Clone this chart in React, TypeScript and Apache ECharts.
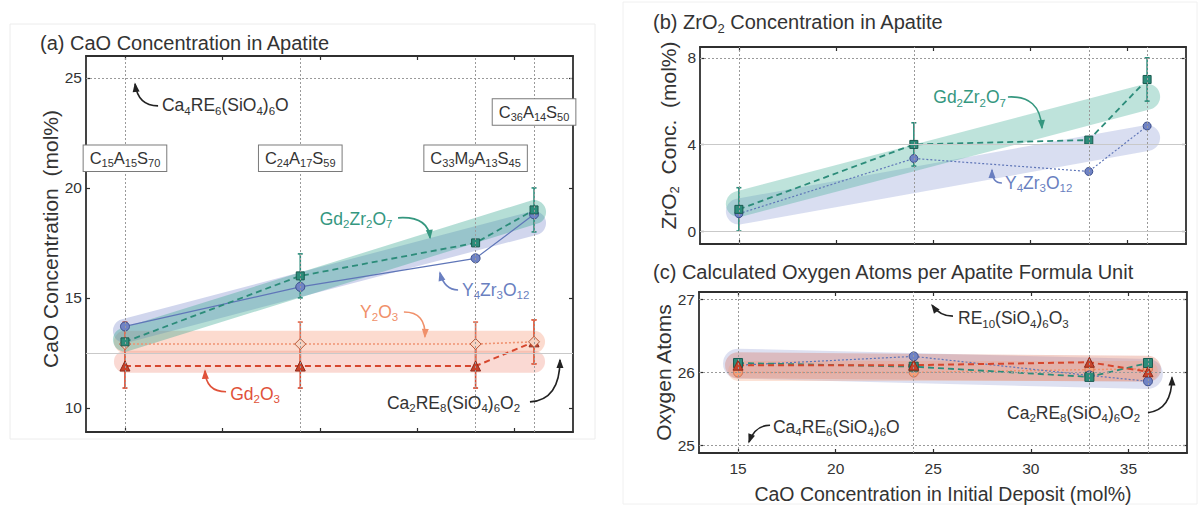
import React, { useEffect, useRef } from 'react';
import * as echarts from 'echarts';

const FONT = '"Liberation Sans", Arial, Helvetica, sans-serif';
const TEXT = '#333333';

// shared x data: CaO concentration in initial deposit (mol%)
const CAO_DEPOSIT = [15, 24, 33, 36];
const X_TICKS = [15, 20, 25, 30, 35];
const X_RANGE = [13, 38];
const FIT_X = [15, 36];

// (a) CaO concentration in apatite (mol%)
const A_Y_RANGE = [8.9, 26];
const A_Y_TICKS = [10, 15, 20, 25];
const A_GD2ZR2O7 = [13.0, 16.0, 17.5, 19.0];
const A_Y4ZR3O12 = [13.7, 15.5, 16.8, 18.8];
const A_Y2O3 = [12.9, 12.9, 12.9, 13.0];
const A_GD2O3 = [11.9, 11.9, 11.9, 13.0];
const A_GD2ZR2O7_ERR = [0, 1.0, 0, 1.0];
const A_Y2O3_ERR = [1.0, 1.0, 1.0, 1.0];
const A_GD2O3_ERR = [1.0, 1.0, 1.0, 1.0];
const A_FIT_GD2ZR2O7 = [13.1, 18.9];
const A_FIT_Y4ZR3O12 = [13.5, 18.4];
const A_FIT_Y2O3 = [13.0, 13.0];
const A_FIT_GD2O3 = [12.1, 12.1];
const A_REF_CA4 = 25; // Ca4RE6(SiO4)6O
const A_REF_CA2 = 12.5; // Ca2RE8(SiO4)6O2
const COMPOSITIONS = ['C_15A_15S_70', 'C_24A_17S_59', 'C_33M_9A_13S_45', 'C_36A_14S_50'];
const COMPOSITION_Y = [21.35, 21.35, 21.35, 23.45];

// (b) ZrO2 concentration in apatite (mol%)
const B_Y_RANGE = [-0.6, 8.5];
const B_Y_TICKS = [0, 4, 8];
const B_GD2ZR2O7 = [1.0, 4.0, 4.2, 7.0];
const B_Y4ZR3O12 = [0.8, 3.35, 2.75, 4.85];
const B_GD2ZR2O7_ERR = [1.0, 1.0, 0, 1.0];
const B_FIT_GD2ZR2O7 = [1.25, 6.2];
const B_FIT_Y4ZR3O12 = [0.9, 4.3];

// (c) oxygen atoms per apatite formula unit
const C_Y_RANGE = [24.9, 27.1];
const C_Y_TICKS = [25, 26, 27];
const C_GD2ZR2O7 = [26.13, 26.08, 25.94, 26.13];
const C_Y4ZR3O12 = [26.1, 26.22, 25.96, 25.88];
const C_Y2O3 = [26.0, 26.0, 26.04, 26.05];
const C_GD2O3 = [26.1, 26.1, 26.14, 26.01];
const C_FIT_Y4ZR3O12 = [26.12, 25.98];
const C_FIT_GD2O3 = [26.1, 26.05];
const C_FIT_Y2O3 = [26.02, 26.02];
const C_REF_LINES = [27, 26, 25];

const TEAL = '#2c8c7a';
const TEAL_DARK = '#1b5a50';
const BLUE = '#5f76b8';
const BLUE_DARK = '#3b4e8c';
const ORANGE = '#ef9270';
const RED = '#d6472e';
const RED_DARK = '#8e2a1a';

const GRIDS = [
  { left: 86, top: 56, width: 487, height: 376 },
  { left: 700, top: 47, width: 486, height: 197 },
  { left: 699, top: 292, width: 488, height: 161 },
];

function toRich(s: string) {
  let out = '';
  const re = /_(\d+)|([^_]+)/g;
  let m: RegExpExecArray | null;
  while ((m = re.exec(s))) {
    out += m[1] ? `{s|${m[1]}}` : `{n|${m[2]}}`;
  }
  return out;
}

function richStyles(size: number, sub: number, color?: string) {
  const c = color ? { color } : {};
  return {
    n: { fontSize: size, fontFamily: FONT, lineHeight: size + 1, ...c },
    s: { fontSize: sub, fontFamily: FONT, lineHeight: sub, padding: [Math.round(size * 0.6), 0, 0, 0], ...c },
  };
}

function pts(ys: number[]) {
  return CAO_DEPOSIT.map((x, i) => [x, ys[i]]);
}

function band(g: number, ys: number[], color: string, width: number) {
  return {
    type: 'line', xAxisIndex: 2 * g, yAxisIndex: 2 * g, silent: true, z: 1,
    data: FIT_X.map((x, i) => [x, ys[i]]), symbol: 'none',
    lineStyle: { color, width, cap: 'round' },
  };
}

function dataLine(g: number, ys: number[], o: any) {
  return {
    type: 'line', xAxisIndex: 2 * g, yAxisIndex: 2 * g, z: 4,
    data: pts(ys), symbol: o.symbol, symbolSize: o.size, showSymbol: true,
    itemStyle: { color: o.fill, borderColor: o.border, borderWidth: 1 },
    lineStyle: { color: o.color, width: o.width, type: o.type },
  };
}

function errBars(g: number, ys: number[], errs: number[], color: string) {
  return {
    type: 'custom', xAxisIndex: 2 * g, yAxisIndex: 2 * g, z: 3, silent: true,
    data: CAO_DEPOSIT.map((x, i) => [x, ys[i], errs[i]]),
    renderItem: (_p: any, api: any) => {
      const e = api.value(2);
      if (!e) return null;
      const x = api.value(0), y = api.value(1);
      const a = api.coord([x, y - e]);
      const b = api.coord([x, y + e]);
      const st = { stroke: color, lineWidth: 1.6 };
      return {
        type: 'group',
        children: [
          { type: 'line', shape: { x1: a[0], y1: a[1], x2: b[0], y2: b[1] }, style: st },
          { type: 'line', shape: { x1: a[0] - 2.5, y1: a[1], x2: a[0] + 2.5, y2: a[1] }, style: st },
          { type: 'line', shape: { x1: b[0] - 2.5, y1: b[1], x2: b[0] + 2.5, y2: b[1] }, style: st },
        ],
      };
    },
  };
}

const DOTTED = { color: '#9a9a9a', type: [2, 2], width: 1 };
const LIGHT = { color: '#c9c9c9', type: 'solid', width: 1 };

function gridLines(g: number, hLines: { v: number; style: any }[]) {
  return {
    type: 'line', xAxisIndex: 2 * g, yAxisIndex: 2 * g, data: [], silent: true, z: 0,
    markLine: {
      silent: true, symbol: ['none', 'none'], label: { show: false }, animation: false,
      data: [
        ...CAO_DEPOSIT.map((x) => ({ xAxis: x, lineStyle: DOTTED })),
        ...hLines.map((h) => ({ yAxis: h.v, lineStyle: h.style })),
      ],
    },
  };
}

function axes(g: number, yr: number[], yt: number[], showX: boolean, yName: string, yGap: number, yShift: number, xName?: string) {
  const line = { show: true, onZero: false, lineStyle: { color: '#2f2f2f', width: 1.8 } };
  const tick = (vals: number[]) => ({ show: true, inside: true, length: 4, customValues: vals, lineStyle: { color: '#2f2f2f', width: 1.2 } });
  const lbl = { color: TEXT, fontSize: 15.5, fontFamily: FONT };
  const xs = [
    {
      type: 'value', gridIndex: g, position: 'bottom', min: X_RANGE[0], max: X_RANGE[1],
      axisLine: line, axisTick: tick(X_TICKS), splitLine: { show: false },
      axisLabel: { show: showX, customValues: X_TICKS, margin: 7, ...lbl },
      name: xName || '', nameLocation: 'middle', nameGap: 31,
      nameTextStyle: { color: TEXT, fontSize: 19.5, fontFamily: FONT },
    },
    {
      type: 'value', gridIndex: g, position: 'top', min: X_RANGE[0], max: X_RANGE[1],
      axisLine: line, axisTick: tick(X_TICKS), splitLine: { show: false }, axisLabel: { show: false },
    },
  ];
  const ys = [
    {
      type: 'value', gridIndex: g, position: 'left', min: yr[0], max: yr[1],
      axisLine: line, axisTick: tick(yt), splitLine: { show: false },
      axisLabel: { show: true, customValues: yt, margin: 4, ...lbl },
      name: toRich(yName), nameLocation: 'middle', nameGap: yGap,
      nameTextStyle: { color: TEXT, rich: richStyles(21, 13, TEXT), padding: [0, 0, 0, yShift] },
    },
    {
      type: 'value', gridIndex: g, position: 'right', min: yr[0], max: yr[1],
      axisLine: line, axisTick: tick(yt), splitLine: { show: false }, axisLabel: { show: false },
    },
  ];
  return { xs, ys };
}

function buildOption() {
  const a = axes(0, A_Y_RANGE, A_Y_TICKS, false, 'CaO Concentration  (mol%)', 25, 10);
  const b = axes(1, B_Y_RANGE, B_Y_TICKS, false, 'ZrO_2  Conc.  (mol%)', 21, 20);
  const c = axes(2, C_Y_RANGE, C_Y_TICKS, true, 'Oxygen Atoms', 25, 0, 'CaO Concentration in Initial Deposit (mol%)');

  const teal = (size: number) => ({ symbol: 'rect', size, fill: TEAL, border: TEAL_DARK, color: TEAL, width: 1.8, type: [6, 4] });
  const blue = (type: any, size: number) => ({ symbol: 'circle', size, fill: '#7083c4', border: BLUE_DARK, color: BLUE, width: 1.2, type });
  const red = { symbol: 'triangle', size: 10, fill: '#c8432b', border: RED_DARK, color: RED, width: 2, type: [6, 4] };

  return {
    animation: false,
    backgroundColor: '#ffffff',
    grid: GRIDS.map((g) => ({ ...g, show: false, containLabel: false, outerBoundsMode: 'none' })),
    xAxis: [...a.xs, ...b.xs, ...c.xs],
    yAxis: [...a.ys, ...b.ys, ...c.ys],
    series: [
      // (a)
      gridLines(0, [{ v: A_REF_CA4, style: DOTTED }, { v: A_REF_CA2, style: LIGHT }]),
      band(0, A_FIT_Y2O3, 'rgba(247,160,128,0.38)', 22),
      band(0, A_FIT_GD2O3, 'rgba(240,128,110,0.30)', 22),
      band(0, A_FIT_Y4ZR3O12, 'rgba(112,128,200,0.32)', 24),
      band(0, A_FIT_GD2ZR2O7, 'rgba(60,168,146,0.38)', 24),
      errBars(0, A_GD2O3, A_GD2O3_ERR, RED),
      errBars(0, A_Y2O3, A_Y2O3_ERR, '#e2694c'),
      errBars(0, A_GD2ZR2O7, A_GD2ZR2O7_ERR, TEAL),
      dataLine(0, A_GD2O3, red),
      dataLine(0, A_Y2O3, { symbol: 'diamond', size: 11, fill: '#f7d3c2', border: '#b95a3a', color: ORANGE, width: 1.6, type: [2, 2] }),
      dataLine(0, A_Y4ZR3O12, blue('solid', 9)),
      dataLine(0, A_GD2ZR2O7, teal(8)),
      // (b)
      gridLines(1, [{ v: 8, style: DOTTED }, { v: 4, style: LIGHT }, { v: 0, style: LIGHT }]),
      band(1, B_FIT_Y4ZR3O12, 'rgba(120,135,205,0.28)', 26),
      band(1, B_FIT_GD2ZR2O7, 'rgba(64,172,150,0.34)', 26),
      errBars(1, B_GD2ZR2O7, B_GD2ZR2O7_ERR, TEAL),
      dataLine(1, B_Y4ZR3O12, blue([2, 2], 8)),
      dataLine(1, B_GD2ZR2O7, teal(8)),
      // (c)
      gridLines(2, C_REF_LINES.map((v) => ({ v, style: DOTTED }))),
      band(2, C_FIT_Y4ZR3O12, 'rgba(120,130,200,0.25)', 30),
      band(2, C_FIT_GD2O3, 'rgba(215,95,65,0.28)', 26),
      band(2, C_FIT_Y2O3, 'rgba(246,160,120,0.30)', 20),
      dataLine(2, C_Y2O3, { symbol: 'circle', size: 9, fill: '#f4a07a', border: '#d07050', color: ORANGE, width: 1.5, type: [2, 2] }),
      dataLine(2, C_Y4ZR3O12, blue([2, 2], 9)),
      dataLine(2, C_GD2ZR2O7, teal(9)),
      dataLine(2, C_GD2O3, red),
    ],
  };
}

type Ann = { g: number; text: string; color: string; at: number[]; from: number[]; ctrl: number[]; to: number[] };

const ANNOTATIONS: Ann[] = [
  { g: 0, text: 'Ca_4RE_6(SiO_4)_6O', color: TEXT, at: [16.9, 23.75], from: [16.7, 23.73], ctrl: [15.67, 23.73], to: [15.52, 24.73] },
  { g: 0, text: 'Gd_2Zr_2O_7', color: '#35977f', at: [25.0, 18.6], from: [29.02, 18.64], ctrl: [30.56, 18.73], to: [30.66, 17.73] },
  { g: 0, text: 'Y_4Zr_3O_12', color: '#6a7fc0', at: [32.3, 15.36], from: [32.1, 15.36], ctrl: [31.4, 15.36], to: [31.17, 16.14] },
  { g: 0, text: 'Y_2O_3', color: '#f0906a', at: [27.07, 14.36], from: [29.32, 14.36], ctrl: [30.46, 14.36], to: [30.4, 13.23] },
  { g: 0, text: 'Gd_2O_3', color: '#e0523a', at: [20.4, 10.64], from: [20.19, 10.73], ctrl: [19.16, 10.73], to: [19.11, 11.68] },
  { g: 0, text: 'Ca_2RE_8(SiO_4)_6O_2', color: TEXT, at: [28.45, 10.23], from: [35.79, 10.27], ctrl: [37.33, 10.36], to: [37.33, 12.18] },
  { g: 1, text: 'Gd_2Zr_2O_7', color: '#35977f', at: [25.0, 6.19], from: [28.84, 6.19], ctrl: [30.49, 6.28], to: [30.59, 4.76] },
  { g: 1, text: 'Y_4Zr_3O_12', color: '#6a7fc0', at: [28.69, 2.22], from: [28.53, 2.22], ctrl: [28.02, 2.22], to: [28.02, 2.82] },
  { g: 2, text: 'RE_10(SiO_4)_6O_3', color: TEXT, at: [26.27, 26.74], from: [26.01, 26.77], ctrl: [25.35, 26.77], to: [24.94, 26.92] },
  { g: 2, text: 'Ca_4RE_6(SiO_4)_6O', color: TEXT, at: [16.79, 25.26], from: [16.64, 25.28], ctrl: [15.87, 25.28], to: [15.56, 25.05] },
  { g: 2, text: 'Ca_2RE_8(SiO_4)_6O_2', color: TEXT, at: [28.78, 25.45], from: [36.0, 25.45], ctrl: [37.23, 25.49], to: [37.23, 25.93] },
];

const TITLES = [
  { text: '(a) CaO Concentration in Apatite', x: 40, y: 43 },
  { text: '(b) ZrO_2 Concentration in Apatite', x: 653, y: 22 },
  { text: '(c) Calculated Oxygen Atoms per Apatite Formula Unit', x: 653, y: 272 },
];

function richText(x: number, y: number, s: string, color: string, size: number, sub: number, align: string, extra: any = {}) {
  return {
    type: 'text', x, y, z: 20,
    style: {
      text: toRich(s), rich: richStyles(size, sub), fill: color, font: `${size}px ${FONT}`,
      align, textAlign: align, verticalAlign: 'middle', textVerticalAlign: 'middle', ...extra,
    },
  };
}

function buildGraphics(chart: any) {
  const P = (g: number, v: number[]) => chart.convertToPixel({ gridIndex: g }, v) as number[];
  const els: any[] = [
    { type: 'rect', shape: { x: 10, y: 24, width: 585, height: 415 }, style: { fill: 'none', stroke: '#ececec', lineWidth: 1 }, z: -1, silent: true },
    { type: 'rect', shape: { x: 623, y: 2, width: 574, height: 502 }, style: { fill: 'none', stroke: '#f0f0f0', lineWidth: 1 }, z: -1, silent: true },
  ];
  TITLES.forEach((t) => els.push(richText(t.x, t.y, t.text, TEXT, 20, 13, 'left')));
  COMPOSITIONS.forEach((c, i) => {
    const p = P(0, [CAO_DEPOSIT[i], COMPOSITION_Y[i]]);
    els.push(richText(p[0], p[1], c, TEXT, 16.5, 11, 'center', {
      backgroundColor: '#ffffff', borderColor: '#7a7a7a', borderWidth: 1, padding: [4, 6, 4, 6],
    }));
  });
  ANNOTATIONS.forEach((a) => {
    const at = P(a.g, a.at);
    const f = P(a.g, a.from);
    const c = P(a.g, a.ctrl);
    const t = P(a.g, a.to);
    const arrowColor = a.color === TEXT ? '#222222' : a.color;
    els.push(richText(at[0], at[1], a.text, a.color, 17.5, 11.5, 'left'));
    els.push({
      type: 'bezierCurve', z: 20, silent: true,
      shape: { x1: f[0], y1: f[1], x2: t[0], y2: t[1], cpx1: c[0], cpy1: c[1] },
      style: { stroke: arrowColor, lineWidth: 1.6, fill: 'none' },
    });
    const dx = t[0] - c[0], dy = t[1] - c[1];
    const len = Math.hypot(dx, dy) || 1;
    const ux = dx / len, uy = dy / len;
    const L = 8, W = 3.5;
    const bx = t[0] - ux * L, by = t[1] - uy * L;
    els.push({
      type: 'polygon', z: 21, silent: true,
      shape: { points: [[t[0] + ux * 1.5, t[1] + uy * 1.5], [bx - uy * W, by + ux * W], [bx + uy * W, by - ux * W]] },
      style: { fill: arrowColor, stroke: 'none' },
    });
  });
  return els;
}

export default function App() {
  const ref = useRef<HTMLDivElement>(null);
  useEffect(() => {
    const chart = echarts.init(ref.current!, null, { renderer: 'svg' });
    chart.setOption(buildOption() as any);
    chart.setOption({ graphic: buildGraphics(chart) } as any);
    return () => chart.dispose();
  }, []);
  return (
    <div
      ref={ref}
      style={{ position: 'fixed', left: 0, top: 0, width: 1201, height: 506, background: '#ffffff' }}
    />
  );
}
